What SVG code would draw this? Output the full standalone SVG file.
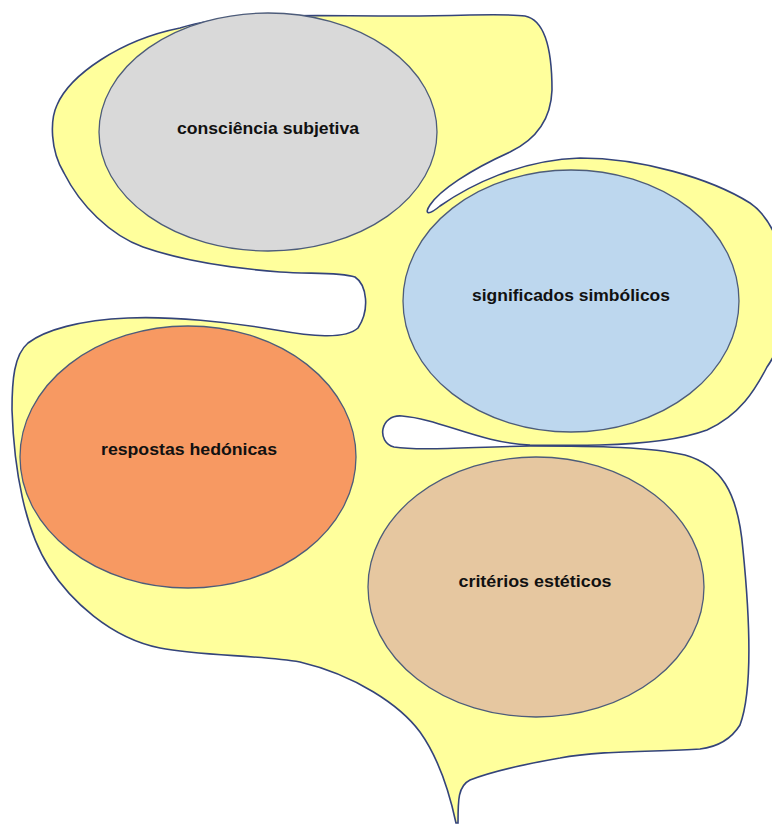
<svg xmlns="http://www.w3.org/2000/svg" width="772" height="825" viewBox="0 0 772 825">
<style>
.blob{fill:#ffff9c;stroke:#34447a;stroke-width:1.6}
.node{stroke:#4d5c7a;stroke-width:1.3}
.lbl{font-family:"Liberation Sans",Arial,sans-serif;font-weight:bold;font-size:17px;fill:#111;text-anchor:middle}
</style>
<rect width="772" height="825" fill="#ffffff"/>
<g id="connectors">
<path class="blob" d="M 180,28 C 230,12 300,16 400,16 C 460,16 505,13 525,16 C 545,20 552,50 552,90 C 551,120 535,140 510,152 C 470,170 440,190 430,205 C 424,214 428,216 440,206 C 470,185 520,160 580,158 C 640,158 710,178 750,203 C 790,230 800,320 767,367 C 755,390 740,415 707,430 C 680,440 640,444 600,445 C 570,446 550,445 530,445 C 480,443 440,419 402,416 C 380,414 376,442 394,447 C 420,451 470,447 530,446 C 600,446 650,447 685,455 C 720,465 738,490 743,550 C 750,620 753,690 740,725 C 735,733 725,746 700,749 C 660,752 600,750 560,758 C 520,765 490,772 470,780 C 458,786 458,800 458,823 L 456,823 C 450,795 440,760 420,732 C 400,705 355,675 300,662 C 260,655 200,656 160,648 C 110,638 70,600 49,567 C 25,530 14,470 12,410 C 12,380 14,355 28,343 C 45,330 80,320 128,318 C 170,316 230,322 276,330 C 310,336 345,340 358,328 C 370,310 367,285 355,277 C 340,272 310,274 280,272 C 230,268 180,260 143,247 C 110,235 80,205 64,173 C 50,150 50,120 57,105 C 70,75 120,40 180,28 Z"/>
</g>
<g id="node-consciencia">
<ellipse class="node" cx="268" cy="132" rx="169" ry="119" fill="#d9d9d9"/>
<text class="lbl" x="268" y="134" textLength="182" lengthAdjust="spacingAndGlyphs">consciência subjetiva</text>
</g>
<g id="node-significados">
<ellipse class="node" cx="571" cy="301" rx="168" ry="131" fill="#bdd7ee"/>
<text class="lbl" x="571" y="301" textLength="198" lengthAdjust="spacingAndGlyphs">significados simbólicos</text>
</g>
<g id="node-respostas">
<ellipse class="node" cx="188" cy="457" rx="168" ry="131" fill="#f79962"/>
<text class="lbl" x="189" y="455" textLength="176" lengthAdjust="spacingAndGlyphs">respostas hedónicas</text>
</g>
<g id="node-criterios">
<ellipse class="node" cx="536" cy="587" rx="168" ry="130" fill="#e6c7a0"/>
<text class="lbl" x="535" y="587" textLength="153" lengthAdjust="spacingAndGlyphs">critérios estéticos</text>
</g>
</svg>
